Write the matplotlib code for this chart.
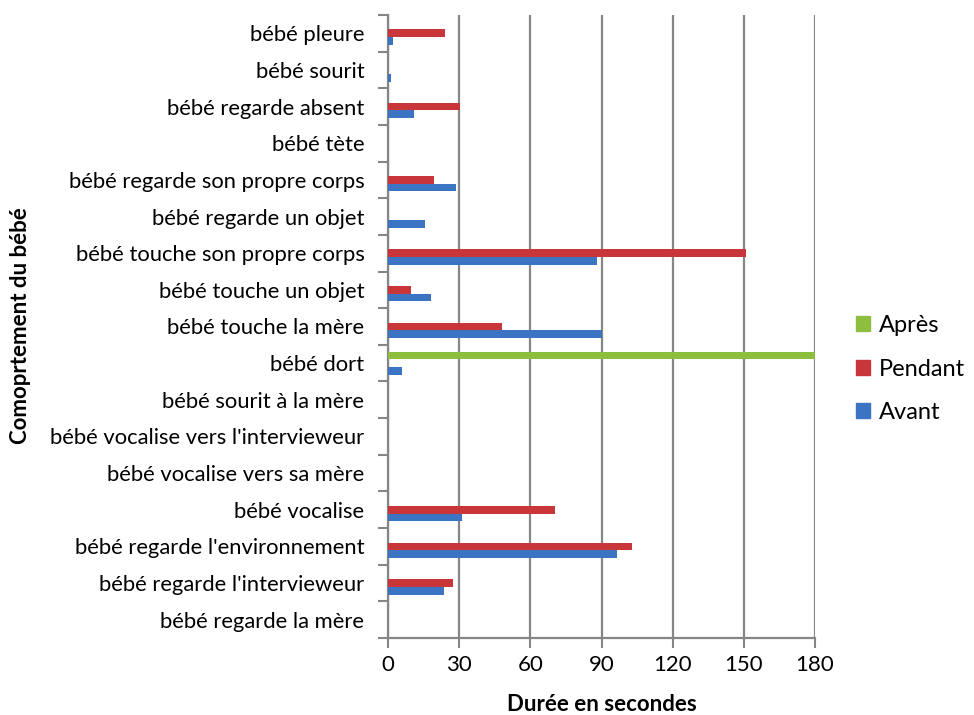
import matplotlib
matplotlib.use("Agg")
import matplotlib.pyplot as plt
import numpy as np
from matplotlib.patches import Patch

plt.rcParams["font.family"] = ["Lato", "DejaVu Sans"]

# categories, bottom to top as drawn
categories = [
    "bébé regarde la mère",
    "bébé regarde l'intervieweur",
    "bébé regarde l'environnement",
    "bébé vocalise",
    "bébé vocalise vers sa mère",
    "bébé vocalise vers l'intervieweur",
    "bébé sourit à la mère",
    "bébé dort",
    "bébé touche la mère",
    "bébé touche un objet",
    "bébé touche son propre corps",
    "bébé regarde un objet",
    "bébé regarde son propre corps",
    "bébé tète",
    "bébé regarde absent",
    "bébé sourit",
    "bébé pleure",
]
avant = [0, 23.5, 96.5, 31, 0, 0, 0, 6, 90, 18, 88, 15.5, 28.5, 0, 11, 1.3, 2]
pendant = [0, 27.5, 103, 70.5, 0, 0, 0, 0, 48, 9.5, 151, 0, 19.5, 0, 30.5, 0, 24]
apres = [0, 0, 0, 0, 0, 0, 0, 180, 0, 0, 0, 0, 0, 0, 0, 0, 0]

series = [("Avant", avant, "#3A74C3"), ("Pendant", pendant, "#C8363A"), ("Après", apres, "#8DBE3F")]
x_ticks = [0, 30, 60, 90, 120, 150, 180]

fig = plt.figure(figsize=(9.74, 7.15), dpi=100)
ax = fig.add_axes([388 / 974, 1 - 638 / 715, 427 / 974, 623 / 715])

y = np.arange(len(categories))
bar_h = 0.21
for i, (name, values, color) in enumerate(series):
    ax.barh(y + (i - 1) * bar_h, values, height=bar_h, color=color, label=name, zorder=3)

ax.set_xlim(0, 180)
ax.set_ylim(-0.5, len(categories) - 0.5)
ax.set_xticks(x_ticks)
ax.set_yticks(y)
ax.set_yticklabels(categories, fontsize=15.8)
ax.set_yticks(np.arange(-0.5, len(categories)), minor=True)
ax.tick_params(axis="y", which="major", length=0, pad=17)
ax.tick_params(axis="y", which="minor", length=7, width=1.5, color="#868686")
ax.tick_params(axis="x", length=7, width=1.5, color="#868686", labelsize=16, pad=5)
ax.grid(axis="x", color="#868686", linewidth=1.6, zorder=0)

for side in ("top", "right"):
    ax.spines[side].set_visible(False)
for side in ("left", "bottom"):
    ax.spines[side].set_color("#868686")
    ax.spines[side].set_linewidth(1.6)

ax.set_xlabel("Durée en secondes", fontsize=16, fontweight="bold", labelpad=14)
fig.text(0.021, 1 - 326 / 715, "Comoprtement du bébé", rotation=90, fontsize=16,
         fontweight="bold", ha="center", va="center")

handles = [Patch(color=c) for _, _, c in reversed(series)]
labels = [n for n, _, _ in reversed(series)]
fig.legend(handles, labels, loc="center left", bbox_to_anchor=(0.877 - 10 / 974, 1 - 369 / 715),
           frameon=False, fontsize=17, handlelength=0.6, handleheight=0.6,
           handletextpad=0.35, labelspacing=0.95, borderpad=0)

fig.savefig("out.png", dpi=100)
